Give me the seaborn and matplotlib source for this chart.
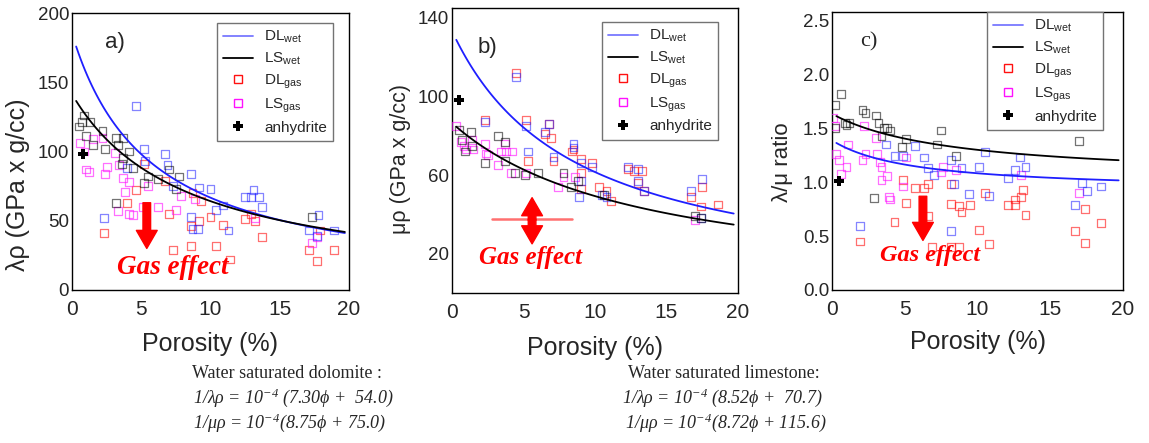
import numpy as np
import pandas as pd
import matplotlib
matplotlib.use("Agg")
import matplotlib.pyplot as plt
from matplotlib.lines import Line2D
import seaborn as sns

sns.set_style("white")
plt.rcParams["font.family"] = ["Liberation Sans", "DejaVu Sans"]
plt.rcParams["mathtext.fontset"] = "custom"
plt.rcParams["mathtext.rm"] = "Liberation Serif:italic"
plt.rcParams["mathtext.it"] = "Liberation Serif:italic"
plt.rcParams["mathtext.sf"] = "Liberation Sans"

# ---------------- panel a: lambda-rho vs porosity ----------------
a_dl_wet_phi = [4.6, 5.2, 5.3, 6.7, 6.9, 7.3, 8.6, 9.2, 10.0, 10.4, 10.9, 11.3, 9.1, 8.7, 8.6, 2.3,
                12.5, 12.9, 13.1, 13.5, 13.7, 17.1, 17.8, 18.9, 17.7, 4.0]
a_dl_wet_val = [133, 102, 93, 98, 90, 75, 84, 74, 73, 58, 61, 43, 44, 44, 53, 52,
                67, 67, 72, 67, 60, 43, 54, 43, 39, 88]
a_ls_wet_phi = [0.85, 0.7, 1.0, 1.3, 1.5, 2.2, 2.4, 3.2, 3.7, 3.3, 4.1, 3.7, 3.6, 4.4, 3.2,
                5.2, 5.5, 6.2, 7.0, 7.5, 7.7, 17.3, 0.5]
a_ls_wet_val = [126, 121, 111, 121, 105, 115, 102, 110, 110, 105, 100, 95, 91, 88, 63,
                77, 82, 80, 87, 73, 82, 53, 118]
a_dl_gas_phi = [2.3, 4.0, 4.6, 5.2, 6.7, 7.0, 7.3, 8.6, 8.6, 9.2, 10.0, 10.4, 10.9, 11.4,
                12.5, 12.9, 13.2, 13.7, 17.1, 17.7, 17.9, 18.9, 8.7, 9.3]
a_dl_gas_val = [41, 63, 72, 91, 79, 55, 29, 32, 46, 50, 53, 32, 47, 22,
                51, 55, 50, 38, 29, 21, 43, 29, 70, 64]
a_ls_gas_phi = [0.6, 0.9, 1.0, 1.2, 1.5, 2.2, 2.4, 2.5, 3.1, 3.3, 3.4, 3.7, 3.8, 4.1, 4.1,
                4.4, 5.1, 5.5, 6.2, 7.5, 7.9, 8.9, 13.2, 17.3, 17.7]
a_ls_gas_val = [106, 100, 87, 85, 109, 110, 84, 89, 99, 57, 90, 81, 71, 78, 55,
                54, 60, 75, 60, 58, 68, 66, 52, 34, 38]
a_anhydrite = (0.8, 98)

# ---------------- panel b: mu-rho vs porosity ----------------
b_dl_wet_phi = [4.5, 5.2, 6.5, 6.8, 7.1, 8.5, 8.5, 9.0, 9.8, 12.3, 13.0, 13.0, 13.4, 10.5, 8.9,
                16.7, 17.5, 17.4, 2.3, 5.3, 9.0, 10.8]
b_dl_wet_val = [110, 85, 82, 86, 69, 76, 74, 66, 64, 64, 63, 57, 52, 50, 49,
                52, 58, 38, 87, 72, 57, 49]
b_ls_wet_phi = [0.5, 0.7, 0.9, 1.4, 1.3, 2.3, 3.2, 3.7, 3.7, 4.4, 5.1, 6.0, 7.8, 8.3, 8.8,
                10.6, 17.0, 17.4]
b_ls_wet_val = [83, 78, 72, 75, 82, 66, 80, 77, 67, 61, 60, 61, 61, 54, 57, 50, 39, 38]
b_dl_gas_phi = [4.5, 5.2, 5.3, 6.5, 6.8, 6.9, 7.1, 8.4, 8.5, 9.0, 9.0, 9.8, 10.3, 10.8, 11.1,
                12.3, 12.7, 13.0, 13.3, 13.4, 16.7, 17.5, 17.4, 18.6, 2.3, 9.0]
b_dl_gas_val = [112, 88, 67, 81, 86, 79, 67, 72, 73, 68, 61, 66, 54, 52, 47,
                63, 62, 56, 62, 52, 49, 54, 44, 45, 88, 53]
b_ls_gas_phi = [0.3, 0.6, 0.8, 1.0, 1.4, 1.5, 2.3, 2.4, 2.5, 3.2, 3.4, 3.7, 3.8, 4.2, 4.1,
                5.2, 7.4, 7.8, 8.6, 17.0]
b_ls_gas_val = [85, 77, 75, 73, 78, 73, 76, 71, 70, 65, 72, 76, 72, 72, 61,
                61, 54, 59, 59, 37]
b_anhydrite = (0.5, 98)

# ---------------- panel c: lambda/mu ratio vs porosity ----------------
c_dl_wet_phi = [3.7, 4.3, 4.9, 5.7, 6.3, 6.6, 7.0, 8.2, 8.9, 9.4, 10.1, 10.5, 10.8, 12.1, 12.6,
                12.9, 13.3, 8.2, 1.9, 16.7, 17.2, 17.5, 18.5, 8.4]
c_dl_wet_val = [1.35, 1.24, 1.24, 1.34, 1.23, 1.13, 1.07, 1.21, 1.13, 0.89, 1.14, 1.28, 0.87,
                1.04, 1.11, 1.23, 1.14, 0.55, 0.59, 0.79, 0.99, 0.92, 0.96, 0.98]
c_ls_wet_phi = [0.6, 0.9, 1.0, 1.2, 2.1, 2.3, 3.0, 3.2, 3.6, 3.4, 3.8, 4.0, 5.1, 4.8, 7.2,
                7.5, 8.5, 2.9, 17.0, 0.2, 0.2]
c_ls_wet_val = [1.82, 1.55, 1.53, 1.55, 1.67, 1.64, 1.62, 1.55, 1.50, 1.43, 1.50, 1.48, 1.40,
                1.33, 1.35, 1.48, 1.24, 0.85, 1.38, 1.72, 1.50]
c_dl_gas_phi = [1.9, 4.3, 4.9, 5.1, 5.7, 6.3, 6.6, 6.6, 6.9, 8.2, 8.2, 8.2, 8.7, 8.7, 8.9, 9.5,
                10.1, 10.5, 10.8, 12.1, 12.6, 12.6, 13.0, 13.1, 13.3, 16.7, 17.4, 17.4, 18.5]
c_dl_gas_val = [0.45, 0.63, 1.02, 0.81, 0.95, 0.95, 0.98, 0.69, 0.40, 0.80, 0.98, 0.40, 0.40,
                0.78, 0.72, 0.79, 0.56, 0.90, 0.43, 0.79, 0.79, 0.84, 0.86, 0.93, 0.70, 0.55,
                0.75, 0.44, 0.62]
c_ls_gas_phi = [0.1, 0.2, 0.3, 0.5, 0.6, 1.0, 1.1, 2.1, 2.2, 2.3, 3.0, 3.1, 3.3, 3.4, 3.4, 3.8,
                3.9, 4.0, 4.9, 5.1, 7.5, 7.6, 8.5, 13.0, 17.0]
c_ls_gas_val = [1.60, 1.52, 1.26, 1.21, 1.08, 1.14, 1.35, 1.21, 1.52, 1.26, 1.41, 1.26, 1.19,
                1.14, 1.02, 1.06, 0.86, 0.84, 0.96, 1.23, 1.09, 1.14, 1.11, 1.07, 0.90]
c_anhydrite = (0.5, 1.01)

# fitted wet trends: 1/(modulus*rho) = 1e-4 * (slope*phi + intercept)
dol_lam_fit = (9.6, 54.0)
lime_lam_fit = (8.52, 70.7)
dol_mu_fit = (8.75, 75.0)
lime_mu_fit = (8.72, 115.6)
fit_range = (0.3, 19.7)

# equation text printed below the panels
dol_title = "Water saturated dolomite :"
dol_eq_lam = "1/λρ = $10^{-4}$ (7.30ϕ +  54.0)"
dol_eq_mu = "1/μρ = $10^{-4}$(8.75ϕ + 75.0)"
lime_title = "Water saturated limestone:"
lime_eq_lam = "1/λρ = $10^{-4}$ (8.52ϕ +  70.7)"
lime_eq_mu = "1/μρ = $10^{-4}$(8.72ϕ + 115.6)"

BLUE = "#1f1fff"
RED = "#ff1010"
MAGENTA = "#ff10ff"


def modulus(fit, phi):
    return 1.0e4 / (fit[0] * phi + fit[1])


phi_fit = np.linspace(fit_range[0], fit_range[1], 120)
curves = {
    "a": (modulus(dol_lam_fit, phi_fit), modulus(lime_lam_fit, phi_fit)),
    "b": (modulus(dol_mu_fit, phi_fit), modulus(lime_mu_fit, phi_fit)),
    "c": (modulus(dol_lam_fit, phi_fit) / modulus(dol_mu_fit, phi_fit),
          modulus(lime_lam_fit, phi_fit) / modulus(lime_mu_fit, phi_fit)),
}

fig = plt.figure(figsize=(11.49, 4.43), dpi=100)
W, H = 1149.0, 443.0
ax_a = fig.add_axes([72 / W, 1 - 290 / H, 277 / W, 277 / H])
ax_b = fig.add_axes([452 / W, 1 - 293 / H, 286 / W, 285 / H])
ax_c = fig.add_axes([832 / W, 1 - 290 / H, 291 / W, 278 / H])


def squares(ax, phi, val, color, alpha=0.6):
    sns.scatterplot(x=phi, y=val, ax=ax, marker="s", s=32, color=color,
                    facecolors="none", edgecolor=color, linewidth=0.9,
                    alpha=alpha, legend=False, zorder=3)


def draw_panel(ax, key, dl_wet, ls_wet, dl_gas, ls_gas, anh):
    squares(ax, *dl_gas, RED, 0.6)
    squares(ax, *ls_gas, MAGENTA, 0.6)
    squares(ax, *dl_wet, BLUE, 0.55)
    squares(ax, *ls_wet, "black", 0.55)
    blue_curve, black_curve = curves[key]
    sns.lineplot(x=phi_fit, y=blue_curve, ax=ax, color=BLUE, lw=1.3, zorder=4)
    sns.lineplot(x=phi_fit, y=black_curve, ax=ax, color="black", lw=1.3, zorder=4)
    ax.plot([anh[0]], [anh[1]], marker="P", ms=7, color="black", mew=0, zorder=5)
    ax.set_xlim(0, 20)
    ax.set_xticks([0, 5, 10, 15, 20])
    for sp in ax.spines.values():
        sp.set_color("black")
        sp.set_linewidth(1.0)
    ax.tick_params(axis="both", which="both", direction="in", length=2.5,
                   color="0.7", width=0.8)
    ax.tick_params(axis="x", labelsize=15, pad=7)
    ax.tick_params(axis="y", labelsize=13.5, pad=2)


draw_panel(ax_a, "a", (a_dl_wet_phi, a_dl_wet_val), (a_ls_wet_phi, a_ls_wet_val),
           (a_dl_gas_phi, a_dl_gas_val), (a_ls_gas_phi, a_ls_gas_val), a_anhydrite)
draw_panel(ax_b, "b", (b_dl_wet_phi, b_dl_wet_val), (b_ls_wet_phi, b_ls_wet_val),
           (b_dl_gas_phi, b_dl_gas_val), (b_ls_gas_phi, b_ls_gas_val), b_anhydrite)
draw_panel(ax_c, "c", (c_dl_wet_phi, c_dl_wet_val), (c_ls_wet_phi, c_ls_wet_val),
           (c_dl_gas_phi, c_dl_gas_val), (c_ls_gas_phi, c_ls_gas_val), c_anhydrite)

ax_a.set_ylim(0, 200)
ax_a.set_yticks([0, 50, 100, 150, 200])
ax_b.set_ylim(0, 145)
ax_b.set_yticks([20, 60, 100, 140])
ax_b.set_yticks([40, 80, 120], minor=True)
ax_c.set_ylim(0, 2.58)
ax_c.set_yticks([0, 0.5, 1.0, 1.5, 2.0, 2.5])
ax_c.yaxis.set_major_formatter(matplotlib.ticker.FormatStrFormatter("%.1f"))

# axis titles
ax_a.set_ylabel("λρ (GPa x g/cc)", fontsize=18)
ax_a.yaxis.set_label_coords(-0.15, 0.38)
ax_b.set_ylabel("μρ (GPa x g/cc)", fontsize=15.5)
ax_b.yaxis.set_label_coords(-0.145, 0.47)
ax_c.set_ylabel("λ/μ ratio", fontsize=16)
ax_c.yaxis.set_label_coords(-0.135, 0.46)
for ax, pad in ((ax_a, 0.15), (ax_b, 0.15), (ax_c, 0.145)):
    ax.set_xlabel("Porosity (%)", fontsize=18)
    ax.xaxis.set_label_coords(0.5, -pad)

# panel tags
ax_a.text(0.119, 0.895, "a)", transform=ax_a.transAxes, fontsize=16, va="center")
ax_b.text(0.091, 0.863, "b)", transform=ax_b.transAxes, fontsize=16, va="center")
ax_c.text(0.096, 0.893, "c)", transform=ax_c.transAxes, fontsize=16, va="center",
          family=["Liberation Serif", "DejaVu Serif"])

# legends
handles = [
    Line2D([], [], color=BLUE, lw=1.3, alpha=0.6),
    Line2D([], [], color="black", lw=1.3),
    Line2D([], [], ls="none", marker="s", ms=6, mfc="none", mec=RED, mew=1.0),
    Line2D([], [], ls="none", marker="s", ms=6, mfc="none", mec=MAGENTA, mew=1.0),
    Line2D([], [], ls="none", marker="P", ms=7, color="black", mew=0),
]
labels = ["DL$_{\\mathsf{wet}}$", "LS$_{\\mathsf{wet}}$", "DL$_{\\mathsf{gas}}$",
          "LS$_{\\mathsf{gas}}$", "anhydrite"]
for ax, anchor in ((ax_a, (0.942, 0.964)), (ax_b, (0.930, 0.951)), (ax_c, (0.931, 1.0))):
    leg = ax.legend(handles, labels, loc="upper right", bbox_to_anchor=anchor,
                    borderaxespad=0.0, fontsize=11, frameon=True, fancybox=False,
                    framealpha=1, edgecolor="0.45", handlelength=2.0,
                    handletextpad=0.7, labelspacing=0.38, borderpad=0.4)
    leg.get_frame().set_linewidth(1.0)
    leg.set_zorder(6)

# gas effect annotations
gas_font = dict(color="red", fontsize=18, fontweight="bold", fontstyle="italic",
                family=["Liberation Serif", "DejaVu Serif"], ha="center", va="center")
arrow = dict(arrowstyle="simple,head_width=1.5,head_length=1.3,tail_width=0.55",
             color="red", mutation_scale=10, shrinkA=0, shrinkB=0)

ax_a.annotate("", xy=(5.4, 30), xytext=(5.4, 63), arrowprops=arrow, zorder=6)
ax_a.text(0.365, 0.083, "Gas effect", transform=ax_a.transAxes, **{**gas_font, "fontsize": 19.5})

ax_b.plot([2.8, 8.4], [37.6, 37.6], color="#ff7070", lw=1.8, zorder=5)
ax_b.annotate("", xy=(5.6, 48.5), xytext=(5.6, 37), arrowprops=arrow, zorder=6)
ax_b.annotate("", xy=(5.6, 25.0), xytext=(5.6, 37.5), arrowprops=arrow, zorder=6)
ax_b.text(0.276, 0.126, "Gas effect", transform=ax_b.transAxes, **gas_font)

ax_c.annotate("", xy=(6.25, 0.46), xytext=(6.25, 0.87), arrowprops=arrow, zorder=6)
ax_c.text(0.337, 0.125, "Gas effect", transform=ax_c.transAxes, **{**gas_font, "fontsize": 17.5})

# equations under the panels
eq_font = dict(fontsize=13, family=["Liberation Serif", "DejaVu Serif"], va="center")
fig.text(192 / W, 1 - 373 / H, dol_title, **eq_font)
fig.text(193 / W, 1 - 398 / H, dol_eq_lam, style="italic", **eq_font)
fig.text(193 / W, 1 - 423 / H, dol_eq_mu, style="italic", **eq_font)
fig.text(628 / W, 1 - 373 / H, lime_title, **eq_font)
fig.text(622 / W, 1 - 398 / H, lime_eq_lam, style="italic", **eq_font)
fig.text(625 / W, 1 - 423 / H, lime_eq_mu, style="italic", **eq_font)

fig.savefig("out.png", dpi=100, facecolor="white")
